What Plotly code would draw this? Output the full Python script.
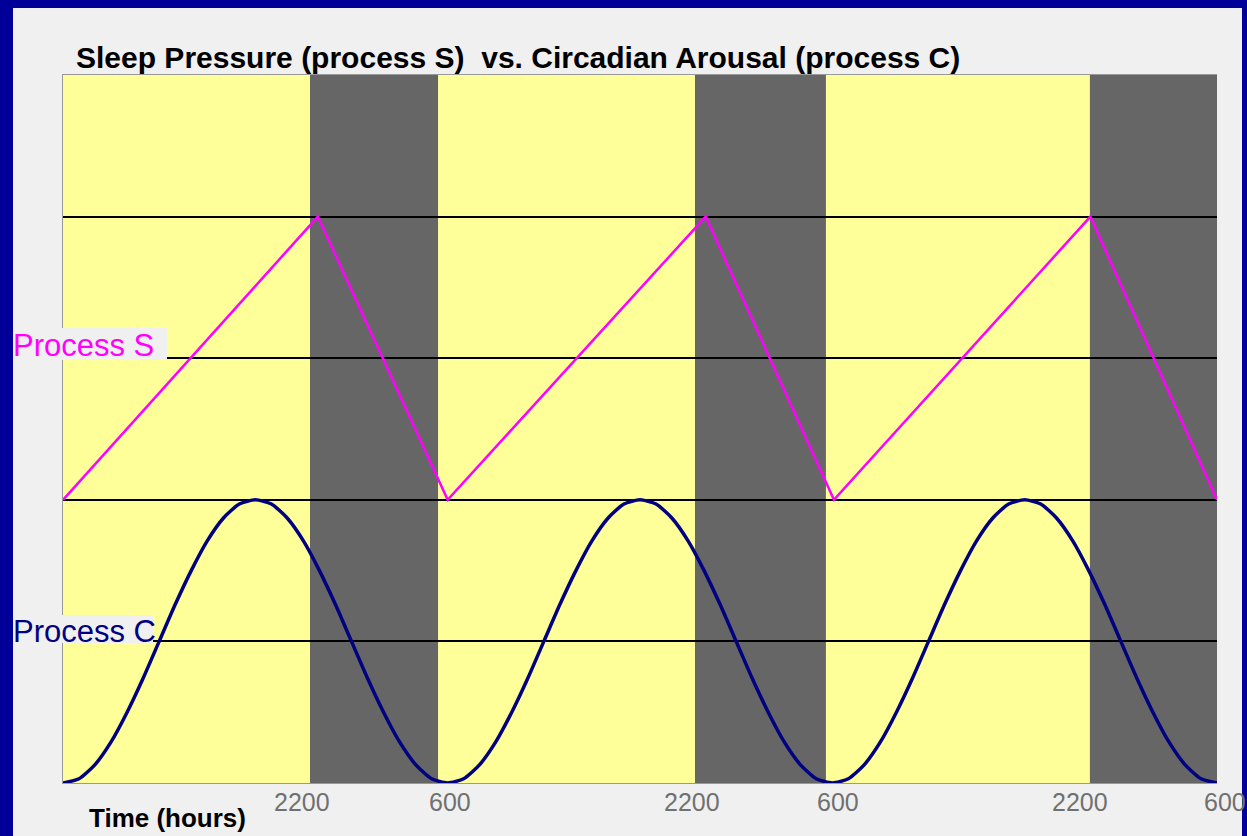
import plotly.graph_objects as go

# ---- data ----
hours_c = list(range(0, 73))
process_c = [
    0.00, 0.03, 0.13, 0.29, 0.50, 0.74, 1.00, 1.26, 1.50, 1.71, 1.87, 1.97,
    2.00, 1.97, 1.87, 1.71, 1.50, 1.26, 1.00, 0.74, 0.50, 0.29, 0.13, 0.03,
    0.00, 0.03, 0.13, 0.29, 0.50, 0.74, 1.00, 1.26, 1.50, 1.71, 1.87, 1.97,
    2.00, 1.97, 1.87, 1.71, 1.50, 1.26, 1.00, 0.74, 0.50, 0.29, 0.13, 0.03,
    0.00, 0.03, 0.13, 0.29, 0.50, 0.74, 1.00, 1.26, 1.50, 1.71, 1.87, 1.97,
    2.00, 1.97, 1.87, 1.71, 1.50, 1.26, 1.00, 0.74, 0.50, 0.29, 0.13, 0.03,
    0.00,
]

hours_s = [0, 15.9, 24.0, 40.1, 48.1, 64.1, 72.0]
process_s = [2.0, 4.0, 2.0, 4.0, 2.0, 4.0, 2.0]

night_start = [15.41, 39.43, 64.07]
night_end = [23.40, 47.60, 72.0]

tick_px = [302, 450, 692, 838, 1080, 1225]
tick_labels = ["2200", "600", "2200", "600", "2200", "600"]

title_text = "Sleep Pressure (process S)  vs. Circadian Arousal (process C)"
xlabel_text = "Time (hours)"

FONT = "Liberation Sans, Arial, Helvetica, sans-serif"

# plot-area geometry (pixels)
W, H = 1247, 836
L, R, T, B = 63, 1217, 75, 783
PW, PH = R - L, B - T


def px(xp):
    return (xp - L) / PW


def py(yp):
    return (B - yp) / PH


fig = go.Figure()

fig.add_trace(go.Scatter(x=hours_s, y=process_s, mode="lines",
                         line=dict(color="#ff00ff", width=2.5),
                         hoverinfo="skip"))
fig.add_trace(go.Scatter(x=hours_c, y=process_c, mode="lines",
                         line=dict(color="#000080", width=3.5, shape="spline", smoothing=0.6),
                         hoverinfo="skip"))

shapes = []
# inner light panel
shapes.append(dict(type="rect", xref="paper", yref="paper",
                   x0=px(13), x1=px(1242), y0=py(840), y1=py(8),
                   fillcolor="#f0f0f0", line=dict(width=0), layer="below"))
# daytime (yellow) background of the plot area
shapes.append(dict(type="rect", xref="x", yref="paper", x0=0, x1=72, y0=0, y1=1,
                   fillcolor="#ffff99", line=dict(width=0), layer="below"))
# night bands
for s, e in zip(night_start, night_end):
    shapes.append(dict(type="rect", xref="x", yref="paper", x0=s, x1=e, y0=0, y1=1,
                       fillcolor="#666666", line=dict(width=0), layer="below"))
# label background boxes
shapes.append(dict(type="rect", xref="paper", yref="paper",
                   x0=px(13), x1=px(167), y0=py(360), y1=py(328),
                   fillcolor="#f0f0f0", line=dict(width=0), layer="above"))
shapes.append(dict(type="rect", xref="paper", yref="paper",
                   x0=px(13), x1=px(153), y0=py(643), y1=py(615),
                   fillcolor="#f0f0f0", line=dict(width=0), layer="above"))

annotations = []
annotations.append(dict(text=title_text, xref="paper", yref="paper",
                        x=px(74), y=py(57), xanchor="left", yanchor="middle",
                        showarrow=False, font=dict(family=FONT, size=30, color="black", weight="bold")))
annotations.append(dict(text=xlabel_text, xref="paper", yref="paper",
                        x=px(167), y=py(818), xanchor="center", yanchor="middle",
                        showarrow=False, font=dict(family=FONT, size=26, color="black", weight="bold")))
annotations.append(dict(text="Process S", xref="paper", yref="paper",
                        x=px(11), y=py(345), xanchor="left", yanchor="middle",
                        showarrow=False, font=dict(family=FONT, size=31, color="#ff00ff")))
annotations.append(dict(text="Process C", xref="paper", yref="paper",
                        x=px(11), y=py(631), xanchor="left", yanchor="middle",
                        showarrow=False, font=dict(family=FONT, size=31, color="#000080")))
for xp, lab in zip(tick_px, tick_labels):
    annotations.append(dict(text=lab, xref="paper", yref="paper", x=px(xp), y=py(802),
                            xanchor="center", yanchor="middle", showarrow=False,
                            font=dict(family=FONT, size=25, color="#707070")))

# right blue border drawn on top (clips the last tick label like the original)
shapes.append(dict(type="rect", xref="paper", yref="paper",
                   x0=px(1242), x1=px(1260), y0=py(850), y1=py(-10),
                   fillcolor="#000099", line=dict(width=0), layer="above"))

fig.update_layout(
    width=W, height=H,
    margin=dict(l=L, r=W - R, t=T, b=H - B, pad=0),
    paper_bgcolor="#000099",
    plot_bgcolor="#ffff99",
    showlegend=False,
    shapes=shapes,
    annotations=annotations,
    xaxis=dict(range=[0, 72], showgrid=False, zeroline=False, showticklabels=False,
               ticks="", showline=True, linecolor="#999999", linewidth=1, mirror=True,
               fixedrange=True),
    yaxis=dict(range=[0, 5], tickvals=[1, 2, 3, 4], showgrid=True, gridcolor="black",
               gridwidth=1.5, zeroline=False, showticklabels=False, ticks="",
               showline=True, linecolor="#999999", linewidth=1, mirror=False,
               fixedrange=True),
)

fig.write_html("out.html", config={"displayModeBar": False},
               post_script="document.body.style.margin='0';document.body.style.overflow='hidden';")
